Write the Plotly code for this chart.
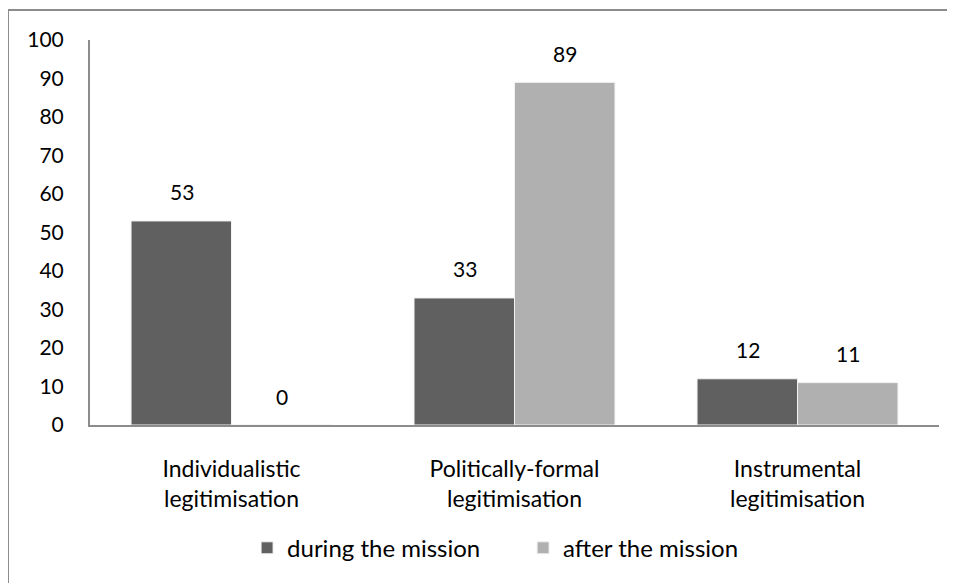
import plotly.graph_objects as go

categories = ["Individualistic<br>legitimisation", "Politically-formal<br>legitimisation", "Instrumental<br>legitimisation"]
series_names = ["during the mission", "after the mission"]
during_vals = [53, 33, 12]
after_vals = [0, 89, 11]
y_ticks = [0, 10, 20, 30, 40, 50, 60, 70, 80, 90, 100]

colors = ["#606060", "#b0b0b0"]
FONT = "Lato, 'Open Sans', sans-serif"
NUM_SIZE = 21
TXT_SIZE = 23

fig = go.Figure()
for name, vals, col in zip(series_names, [during_vals, after_vals], colors):
    fig.add_trace(go.Bar(
        x=categories, y=vals, name=name,
        marker=dict(color=col, line=dict(color="#f2f2f2", width=1)),
        hoverinfo="skip",
    ))

# data labels
for i, vals in enumerate([during_vals, after_vals]):
    for j, v in enumerate(vals):
        fig.add_annotation(
            x=categories[j], y=v, text=str(v), showarrow=False,
            xshift=(-50 if i == 0 else 50), yshift=29,
            font=dict(family=FONT, size=NUM_SIZE, color="#000"),
            xref="x", yref="y",
        )

fig.add_shape(type="rect", xref="paper", yref="paper",
              x0=-0.0966, x1=1.2, y0=-0.5, y1=1.078,
              line=dict(color="#8c8c8c", width=2), layer="below")

fig.update_layout(
    width=955, height=583,
    margin=dict(l=82, r=24, t=32, b=166),
    paper_bgcolor="white", plot_bgcolor="white",
    barmode="group", bargap=0.29, bargroupgap=0.0,
    font=dict(family=FONT, size=TXT_SIZE, color="#000"),
    showlegend=True,
    legend=dict(orientation="h", x=0.185, xanchor="left", y=-0.32, yanchor="middle",
                font=dict(family=FONT, size=24), itemwidth=30, entrywidth=231,
                traceorder="normal"),
    xaxis=dict(showline=True, linecolor="#8c8c8c", linewidth=2, ticks="",
               showgrid=False, ticklabelstandoff=22, tickfont=dict(size=TXT_SIZE)),
    yaxis=dict(range=[0, 100], tickvals=y_ticks, showline=True, linecolor="#8c8c8c",
               linewidth=2, showgrid=False, zeroline=False, ticks="",
               ticklabelstandoff=20, tickfont=dict(size=NUM_SIZE)),
)

fig.write_html("out.html")
